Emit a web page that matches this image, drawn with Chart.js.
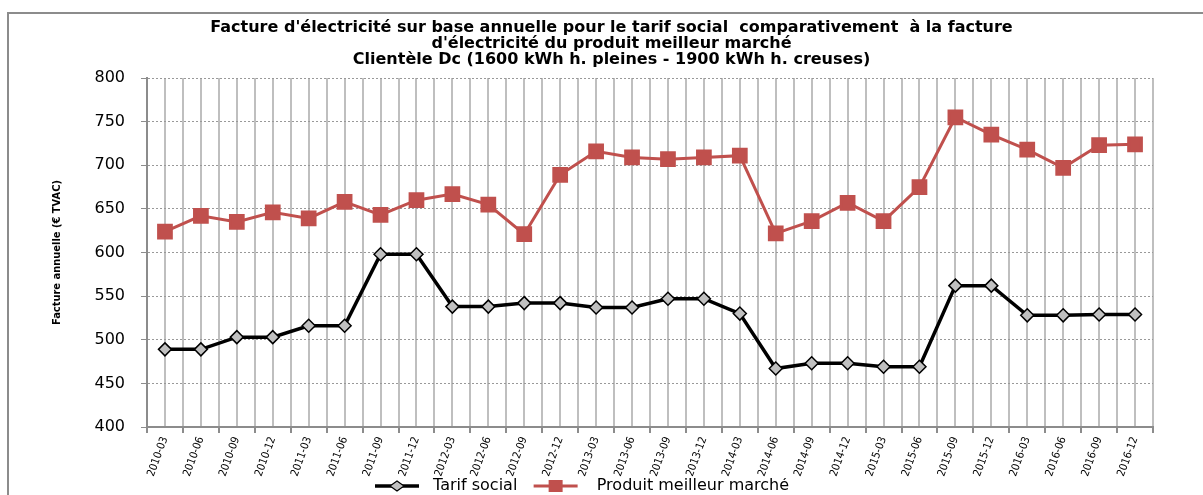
<!DOCTYPE html>
<html>
<head>
<meta charset="utf-8">
<script src="https://cdn.jsdelivr.net/npm/chart.js@4.4.1/dist/chart.umd.min.js"></script>
<style>
  body { margin: 0; background: #fff; }
  #wrap { position: relative; width: 1203px; height: 495px; overflow: hidden; }
  #frame { position: absolute; left: 7px; top: 12px; width: 1200px; height: 500px; border: 2px solid #8c8c8c; box-sizing: border-box; }
  canvas { position: absolute; left: 0; top: 0; }
</style>
</head>
<body>
<div id="wrap">
  <div id="frame"></div>
  <canvas id="chart" width="1203" height="495"></canvas>
</div>
<script>
var trimestres = ["2010-03", "2010-06", "2010-09", "2010-12", "2011-03", "2011-06", "2011-09", "2011-12",
    "2012-03", "2012-06", "2012-09", "2012-12", "2013-03", "2013-06", "2013-09", "2013-12",
    "2014-03", "2014-06", "2014-09", "2014-12", "2015-03", "2015-06", "2015-09", "2015-12",
    "2016-03", "2016-06", "2016-09", "2016-12"];

var tarifSocial = [489, 489, 503, 503, 516, 516, 598, 598,
    538, 538, 542, 542, 537, 537, 547, 547,
    530, 467, 473, 473, 469, 469, 562, 562,
    528, 528, 529, 529];

var meilleurMarche = [624, 642, 635, 646, 639, 658, 643, 660,
    667, 655, 621, 689, 716, 709, 707, 709,
    711, 622, 636, 657, 636, 675, 755, 735,
    718, 697, 723, 724];

var titre = ["Facture d'électricité sur base annuelle pour le tarif social  comparativement  à la facture",
    "d'électricité du produit meilleur marché",
    "Clientèle Dc (1600 kWh h. pleines - 1900 kWh h. creuses)"];

var narrow = "'DejaVu Sans Condensed', 'Liberation Sans Narrow', 'Arial Narrow', sans-serif";

// petit symbole de légende : trait + marqueur, comme dans Excel
function symbole(couleurTrait, epaisseur, marqueur) {
    var c = document.createElement('canvas');
    c.width = 46; c.height = 16;
    var g = c.getContext('2d');
    g.strokeStyle = couleurTrait;
    g.lineWidth = epaisseur;
    g.beginPath(); g.moveTo(1, 8); g.lineTo(45, 8); g.stroke();
    marqueur(g);
    return c;
}

var symTarif = symbole('#000', 3.5, function (g) {
    g.beginPath();
    g.moveTo(23, 3); g.lineTo(30, 8); g.lineTo(23, 13); g.lineTo(16, 8); g.closePath();
    g.fillStyle = '#c0c0c0'; g.fill();
    g.lineWidth = 1.2; g.strokeStyle = '#000'; g.stroke();
});
var symProduit = symbole('#c0504d', 3, function (g) {
    g.fillStyle = '#c0504d';
    g.fillRect(16, 2, 14, 12);
});

// décale le titre pour le centrer comme dans l'original
var decalageTitre = {
    id: 'decalageTitre',
    afterLayout: function (chart) {
        var t = chart.titleBlock;
        if (t) { t.left += 30; t.right += 30; }
    }
};

var ctx = document.getElementById("chart").getContext('2d');
var chart = new Chart(ctx, {
    type: 'line',
    data: {
        labels: trimestres,
        datasets: [{
            label: 'Tarif social',
            data: tarifSocial,
            borderColor: '#000000',
            borderWidth: 3.5,
            pointStyle: 'rectRot',
            pointRadius: 6.5,
            pointBackgroundColor: '#c0c0c0',
            pointBorderColor: '#000000',
            pointBorderWidth: 1.5,
            backgroundColor: '#c0c0c0',
            tension: 0
        }, {
            label: 'Produit meilleur marché',
            data: meilleurMarche,
            borderColor: '#c0504d',
            borderWidth: 3,
            pointStyle: 'rect',
            pointRadius: 9,
            pointBackgroundColor: '#c0504d',
            pointBorderColor: '#c0504d',
            backgroundColor: '#c0504d',
            tension: 0
        }]
    },
    plugins: [decalageTitre],
    options: {
        responsive: false,
        animation: false,
        layout: { padding: { left: 10, right: 50, top: 10, bottom: -9 } },
        plugins: {
            title: {
                display: true,
                text: titre,
                color: '#000',
                font: { family: 'DejaVu Sans', weight: 'bold', size: 16, lineHeight: '16px' },
                padding: { top: 10, bottom: 10 }
            },
            legend: {
                position: 'bottom',
                labels: {
                    usePointStyle: true,
                    pointStyleWidth: 46,
                    color: '#000',
                    font: { family: 'DejaVu Sans', size: 16 },
                    padding: 0,
                    generateLabels: function (chart) {
                        var items = Chart.defaults.plugins.legend.labels.generateLabels(chart);
                        items[0].pointStyle = symTarif;
                        items[1].pointStyle = symProduit;
                        items[0].text = ' ' + items[0].text + '   ';
                        items[1].text = '  ' + items[1].text;
                        return items;
                    }
                }
            },
            tooltip: { enabled: false }
        },
        scales: {
            x: {
                offset: true,
                grid: { offset: true, color: '#bfbfbf', lineWidth: 2, tickLength: 6, tickColor: '#8c8c8c' },
                border: { color: '#8c8c8c', width: 2 },
                ticks: {
                    color: '#000',
                    minRotation: 70,
                    maxRotation: 70,
                    autoSkip: false,
                    padding: 2,
                    font: { family: narrow, size: 11 }
                },
                afterFit: function (s) { s.height = 51; }
            },
            x2: {
                type: 'category',
                labels: trimestres,
                position: 'bottom',
                offset: true,
                grid: { offset: false, color: '#bfbfbf', lineWidth: 2, drawTicks: false },
                border: { display: false },
                ticks: { display: false },
                afterFit: function (s) { s.height = 0; }
            },
            y: {
                min: 400,
                max: 800,
                ticks: { stepSize: 50, color: '#000', padding: 16, font: { family: 'DejaVu Sans', size: 16 } },
                grid: { color: '#999999', tickBorderDash: [], tickColor: '#8c8c8c', tickLength: 6 },
                border: { color: '#8c8c8c', width: 2, dash: [2, 2] },
                title: {
                    display: true,
                    text: 'Facture annuelle (€ TVAC)',
                    color: '#000',
                    font: { family: narrow, weight: 'bold', size: 11 },
                    padding: { top: 41, bottom: 0 }
                },
                afterFit: function (s) { s.width = 137; }
            }
        }
    }
});
</script>
</body>
</html>
